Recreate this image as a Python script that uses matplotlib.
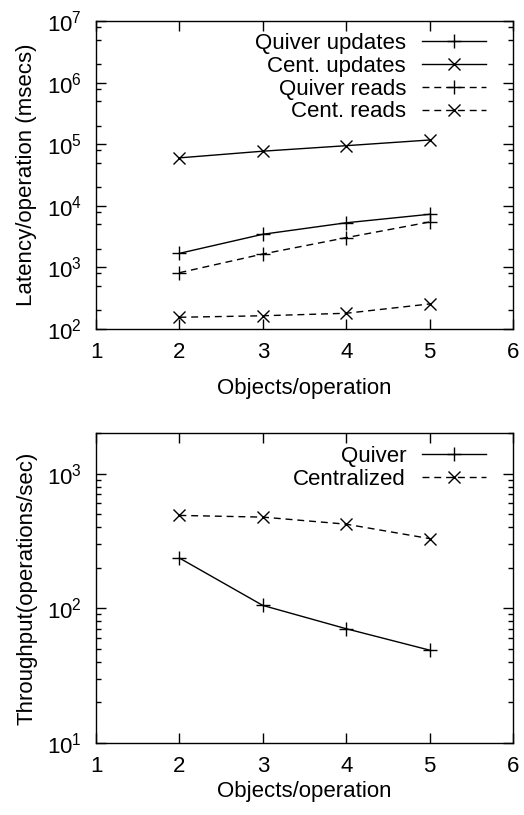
import matplotlib
matplotlib.use("Agg")
import matplotlib.pyplot as plt
from matplotlib.ticker import LogLocator, NullFormatter, FixedLocator

plt.rcParams['font.family'] = ['Liberation Sans', 'DejaVu Sans']
plt.rcParams['mathtext.fontset'] = 'custom'
plt.rcParams['mathtext.rm'] = 'Liberation Sans'
plt.rcParams['mathtext.it'] = 'Liberation Sans'
plt.rcParams['font.size'] = 16

# objects per operation
objects = [2, 3, 4, 5]

# latency (msecs)
quiver_updates = [1690, 3450, 5300, 7280]
cent_updates = [60000, 77000, 94600, 117000]
quiver_reads = [820, 1650, 3040, 5460]
cent_reads = [155, 164, 180, 255]

# throughput (operations/sec)
quiver_tput = [236, 105, 70.5, 48.9]
cent_tput = [489, 475, 421, 329]

x_ticks = [1, 2, 3, 4, 5, 6]
DASH = (0, (5, 3.5))


def style_axes(ax, ylim, minor_subs, xlabelpad):
    ax.set_yscale('log')
    ax.set_xlim(1, 6)
    ax.set_ylim(*ylim)
    ax.xaxis.set_major_locator(FixedLocator(x_ticks))
    ax.yaxis.set_major_locator(LogLocator(base=10, numticks=20))
    ax.yaxis.set_minor_locator(LogLocator(base=10, subs=minor_subs, numticks=20))
    ax.yaxis.set_minor_formatter(NullFormatter())
    ax.tick_params(which='both', direction='in', top=True, right=True, width=1.0)
    ax.tick_params(which='major', length=7.5, labelsize=16)
    ax.tick_params(axis='y', which='major', pad=10)
    ax.tick_params(axis='x', which='major', pad=9)
    ax.tick_params(which='minor', length=3.7)
    for s in ax.spines.values():
        s.set_linewidth(1.0)
    ax.set_xlabel('Objects/operation', fontsize=16, labelpad=xlabelpad)


fig = plt.figure(figsize=(5.24, 8.15), dpi=100)

# latency plot
ax1 = fig.add_axes([96 / 524, 1 - 329 / 815, 417 / 524, 308 / 815])
ax1.plot(objects, quiver_updates, color='black', lw=1.0, marker='+', ms=10, mew=1.0, label='Quiver updates')
ax1.plot(objects, cent_updates, color='black', lw=1.0, marker='x', ms=9, mew=1.0, label='Cent. updates')
ax1.plot(objects, quiver_reads, color='black', lw=1.0, ls=DASH, marker='+', ms=10, mew=1.0, label='Quiver reads')
ax1.plot(objects, cent_reads, color='black', lw=1.0, ls=DASH, marker='x', ms=9, mew=1.0, label='Cent. reads')
style_axes(ax1, (1e2, 1e7), (2.0, 5.0, 8.0), 11)
ax1.set_ylabel('Latency/operation (msecs)', fontsize=16, labelpad=7)
ax1.legend(loc='upper right', bbox_to_anchor=(486 / 417 - 96 / 417, 1 - 12 / 308), frameon=False,
           markerfirst=False, handlelength=2.9, handletextpad=0.7, labelspacing=0.08,
           borderaxespad=0, borderpad=0, fontsize=16)

# throughput plot
ax2 = fig.add_axes([96 / 524, 1 - 743 / 815, 417 / 524, 310 / 815])
ax2.plot(objects, quiver_tput, color='black', lw=1.0, marker='+', ms=10, mew=1.0, label='Quiver')
ax2.plot(objects, cent_tput, color='black', lw=1.0, ls=DASH, marker='x', ms=9, mew=1.0, label='Centralized')
style_axes(ax2, (10, 2000), (2.0, 3.0, 4.0, 5.0, 6.0, 7.0, 8.0, 9.0), 3)
ax2.set_ylabel('Throughput(operations/sec)', fontsize=16, labelpad=7)
ax2.legend(loc='upper right', bbox_to_anchor=(486 / 417 - 96 / 417, 1 - 13 / 310), frameon=False,
           markerfirst=False, handlelength=2.9, handletextpad=0.7, labelspacing=0.08,
           borderaxespad=0, borderpad=0, fontsize=16)

fig.savefig('out.png', dpi=100)
